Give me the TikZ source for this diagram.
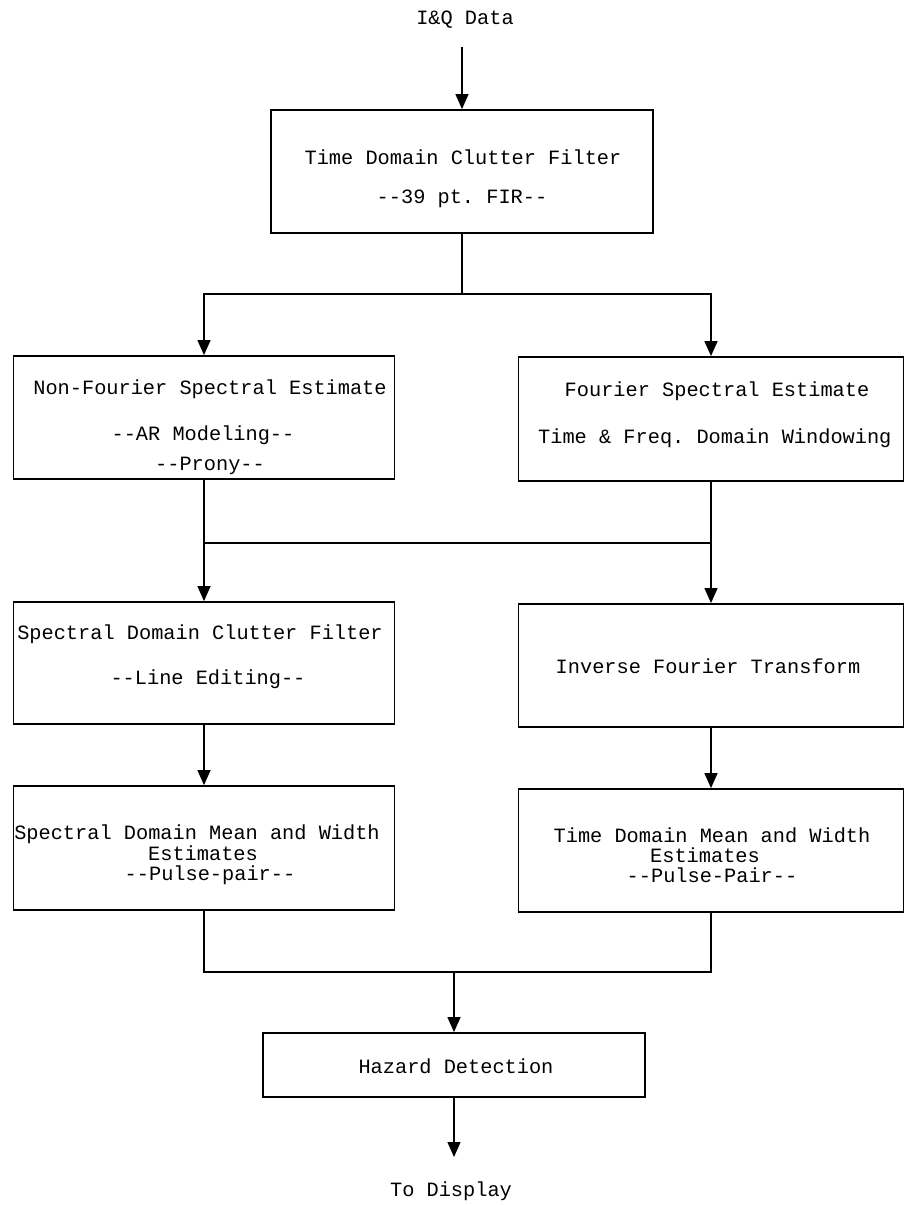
\documentclass[tikz,border=0pt]{standalone}
\usepackage{fontspec}
\setmonofont{Liberation Mono}
\usetikzlibrary{arrows.meta}
\begin{document}
\begin{tikzpicture}[x=1pt,y=-1pt,
  box/.style={draw=black,line width=1.8pt,rectangle,inner sep=0pt},
  lbl/.style={inner sep=0pt,anchor=base,font=\ttfamily\fontsize{20.3}{24}\selectfont},
  conn/.style={draw=black,line width=1.3pt},
  arr/.style={conn,-{Triangle[width=13pt,length=15pt]}}]
\fill[white] (0,0) rectangle (907,1205);
\useasboundingbox (0,0) rectangle (907,1205);
% boxes
\node[box,minimum width=382pt,minimum height=123pt] (b1) at (462,171.5) {};
\node[box,minimum width=381pt,minimum height=123pt] (bA) at (204,417.5) {};
\node[box,minimum width=385pt,minimum height=124pt] (bB) at (711,419) {};
\node[box,minimum width=381pt,minimum height=122pt] (bC) at (204,663) {};
\node[box,minimum width=385pt,minimum height=123pt] (bD) at (711,665.5) {};
\node[box,minimum width=381pt,minimum height=124pt] (bE) at (204,848) {};
\node[box,minimum width=385pt,minimum height=123pt] (bF) at (711,850.5) {};
\node[box,minimum width=382pt,minimum height=64pt] (bH) at (454,1065) {};
% texts
\node[lbl] (tin) at (465,24) {I\&Q Data};
\node[lbl] (t1a) at (463,164) {Time Domain Clutter Filter};
\node[lbl] (t1b) at (462,203) {-{}-39 pt. FIR-{}-};
\node[lbl] (tAa) at (210,394) {Non-Fourier Spectral Estimate};
\node[lbl] (tAb) at (203,440) {-{}-AR Modeling-{}-};
\node[lbl] (tAc) at (210,470) {-{}-Prony-{}-};
\node[lbl] (tBa) at (717,396) {Fourier Spectral Estimate};
\node[lbl,anchor=base west] (tBb) at (538,443) {Time \& Freq. Domain Windowing};
\node[lbl] (tCa) at (200,639) {Spectral Domain Clutter Filter};
\node[lbl] (tCb) at (208,684) {-{}-Line Editing-{}-};
\node[lbl] (tDa) at (708,673) {Inverse Fourier Transform};
\node[lbl] (tEa) at (197,839) {Spectral Domain Mean and Width};
\node[lbl] (tEb) at (203,860) {Estimates};
\node[lbl] (tEc) at (210,880) {-{}-Pulse-pair-{}-};
\node[lbl] (tFa) at (712,842) {Time Domain Mean and Width};
\node[lbl] (tFb) at (705,862) {Estimates};
\node[lbl] (tFc) at (712,882) {-{}-Pulse-Pair-{}-};
\node[lbl] (tHa) at (456,1073) {Hazard Detection};
\node[lbl] (tout) at (451,1196) {To Display};
% connectors
\coordinate (cin) at (462,47);
\draw[arr] (cin) -- (b1.north);
\coordinate (s1) at (462,294);
\draw[conn] (b1.south) -- (s1);
\draw[arr] (s1) -| (bA.north);
\draw[arr] (s1) -| (bB.north);
\draw[arr] (bA.south) -- (bC.north);
\draw[arr] (bB.south) -- (bD.north);
\draw[conn] (bA.south |- 0,543) -- (bB.south |- 0,543);
\draw[arr] (bC.south) -- (bE.north);
\draw[arr] (bD.south) -- (bF.north);
\coordinate (s3) at (454,972);
\draw[conn] (bE.south) |- (s3) -| (bF.south);
\draw[arr] (s3) -- (bH.north);
\coordinate (cout) at (454,1157);
\draw[arr] (bH.south) -- (cout);
\end{tikzpicture}
\end{document}
